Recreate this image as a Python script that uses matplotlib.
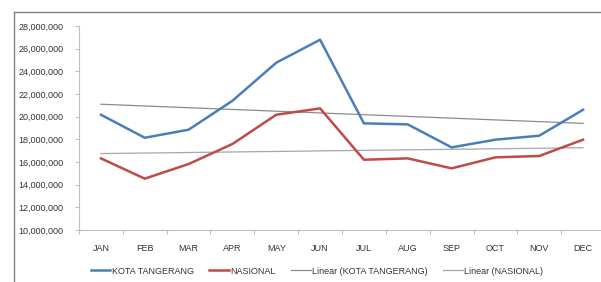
# -*- coding: utf-8 -*-

# imports
import numpy as np
import matplotlib
matplotlib.use('Agg')
import matplotlib.pyplot as plt
from matplotlib.lines import Line2D
from matplotlib.ticker import FuncFormatter

################################################################################

months = ['JAN', 'FEB', 'MAR', 'APR', 'MAY', 'JUN',
          'JUL', 'AUG', 'SEP', 'OCT', 'NOV', 'DEC']
kota_tangerang = [20170000, 18140000, 18850000, 21400000, 24760000, 26790000,
                  19410000, 19320000, 17290000, 17970000, 18320000, 20610000]
nasional = [16320000, 14530000, 15820000, 17590000, 20170000, 20730000,
            16200000, 16320000, 15440000, 16410000, 16530000, 17970000]
y_ticks = list(range(10000000, 28000001, 2000000))

################################################################################

plt.rcParams['font.family'] = ['Liberation Sans Narrow', 'Liberation Sans', 'DejaVu Sans']

def trend(values):
    x = np.arange(len(values))
    k, b = np.polyfit(x, values, 1)
    return k * x + b

fig = plt.figure(figsize=(6.01, 2.82), dpi=100)
ax = fig.add_axes([79 / 601, 52 / 282, 526 / 601, 204 / 282])

x = np.arange(len(months))
blue = '#4a7ebb'
red = '#be4b48'
ax.plot(x, trend(kota_tangerang), color='#8c8c8c', lw=0.9, zorder=2)
ax.plot(x, trend(nasional), color='#a6a6a6', lw=0.9, zorder=2)
ax.plot(x, kota_tangerang, color=blue, lw=1.8, zorder=3)
ax.plot(x, nasional, color=red, lw=1.8, zorder=3)

fs = 6.5
ax.set_xlim(-0.5, len(months) - 0.5)
ax.set_ylim(10000000, 28000000)
ax.set_yticks(y_ticks)
ax.yaxis.set_major_formatter(FuncFormatter(lambda v, p: '{:,.0f}'.format(v)))
ax.set_xticks(x)
ax.set_xticklabels(months)
ax.set_xticks(np.arange(-0.5, len(months)), minor=True)
ax.tick_params(axis='x', which='major', length=0, pad=10, labelsize=fs, colors='#333333')
ax.tick_params(axis='x', which='minor', length=3, color='#bfbfbf', width=0.8)
ax.tick_params(axis='y', length=3, color='#bfbfbf', width=0.8, labelsize=fs,
               labelcolor='#333333', pad=8)

for s in ['top', 'right']:
    ax.spines[s].set_visible(False)
for s in ['left', 'bottom']:
    ax.spines[s].set_color('#bfbfbf')
    ax.spines[s].set_linewidth(0.8)

# outer chart frame (left and top edges visible)
fig.add_artist(Line2D([14 / 601, 14 / 601], [0, 1 - 12 / 282], color='#808080', lw=1.0))
fig.add_artist(Line2D([14 / 601, 1], [1 - 12 / 282, 1 - 12 / 282], color='#808080', lw=1.0))

handles = [Line2D([], [], color=blue, lw=1.8),
           Line2D([], [], color=red, lw=1.8),
           Line2D([], [], color='#8c8c8c', lw=0.9),
           Line2D([], [], color='#a6a6a6', lw=0.9)]
labels = ['KOTA TANGERANG', 'NASIONAL', 'Linear (KOTA TANGERANG)', 'Linear (NASIONAL)']
leg = fig.legend(handles, labels, loc='center', bbox_to_anchor=(317 / 601, 1 - 271 / 282),
                 ncol=4, frameon=False, fontsize=fs, handlelength=2.2,
                 handletextpad=0.15, columnspacing=1.7)
for t in leg.get_texts():
    t.set_color('#333333')

fig.savefig('out.png', dpi=100)
